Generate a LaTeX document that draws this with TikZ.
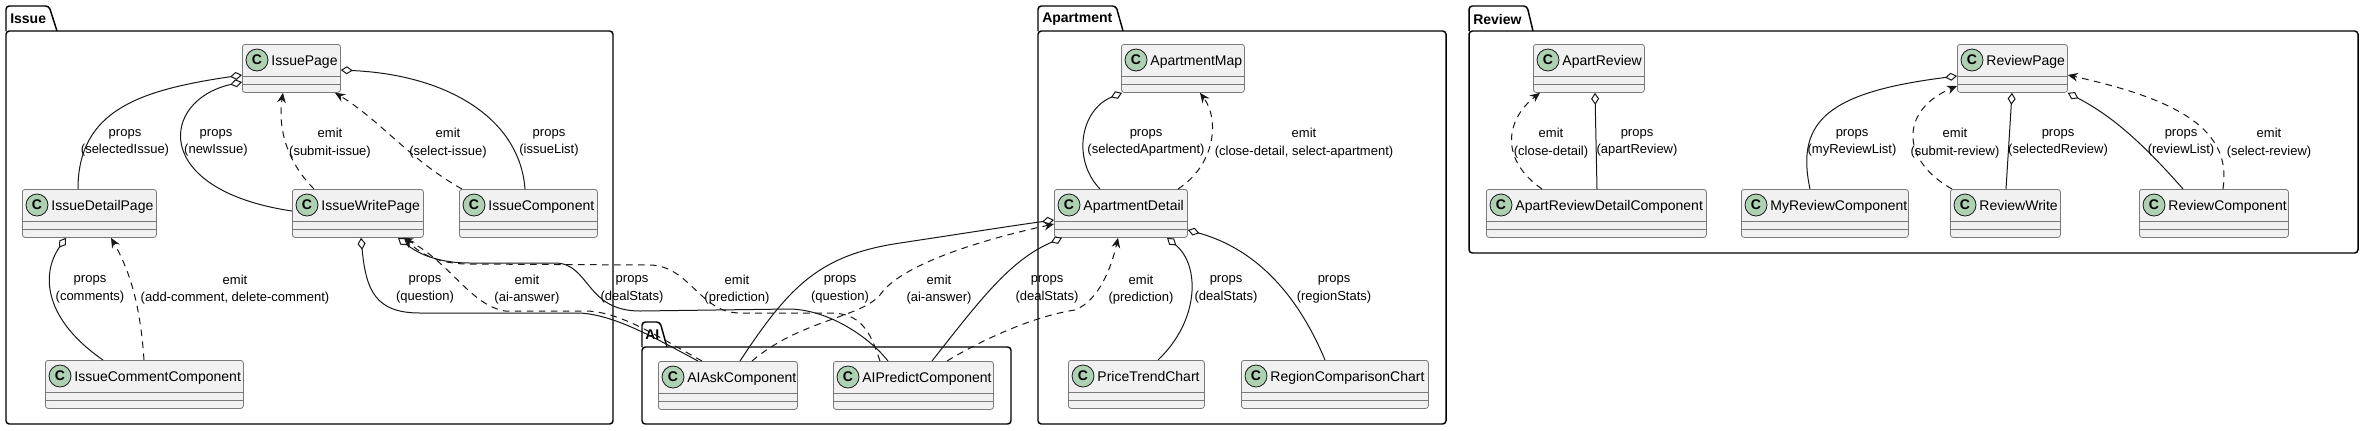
\documentclass[tikz,border=0pt]{standalone}
\usepackage{fontspec}
\setmainfont{Liberation Sans}
\usetikzlibrary{arrows.meta,calc}

\definecolor{boxfill}{HTML}{F1F1F1}
\definecolor{boxline}{HTML}{7A7A7A}
\definecolor{circfill}{HTML}{ADD1B2}
\definecolor{edge}{HTML}{181818}

\begin{document}
\begin{tikzpicture}[x=0.75pt,y=-0.75pt,
	cls/.style={draw=boxline, fill=boxfill, line width=0.6pt, rounded corners=2pt,
		anchor=north west, inner sep=0pt, text width=#1, align=left,
		text height=15.75pt, text depth=20.25pt, font=\fontsize{10.5}{12.6}\selectfont},
	cmark/.style={circle, draw=edge, fill=circfill, line width=0.6pt, inner sep=0pt,
		minimum size=16.5pt, font=\fontsize{10.5}{12}\selectfont\bfseries},
	pkg/.style={draw=black, line width=1.1pt, rounded corners=2.5pt},
	pkgtitle/.style={anchor=west, inner sep=0pt, font=\fontsize{10.5}{12}\selectfont\bfseries},
	agg/.style={draw=edge, line width=0.75pt, {Diamond[fill=white,length=9pt,width=6pt]}-},
	emitline/.style={draw=edge, line width=0.75pt, dash pattern=on 5pt off 4pt,
		-{Stealth[length=7.5pt,width=6.5pt,inset=2.5pt]}},
	lbl/.style={align=center, inner sep=0pt, font=\fontsize{9.75}{13}\selectfont}]
	\path[fill=white, use as bounding box] (0,0) rectangle (2363,430);
	% Draw packages
	\draw[pkg] (6,31) -- (6,6) -- (49,6) -- (57,31);
	\draw[pkg] (6,31) -- (613,31) -- (613,424) -- (6,424) -- cycle;
	\node[pkgtitle] (issuetitle) at (10,19) {Issue};
	\draw[pkg] (642,347) -- (642,322) -- (660,322) -- (667,347);
	\draw[pkg] (642,347) -- (1011,347) -- (1011,424) -- (642,424) -- cycle;
	\node[pkgtitle] (aititle) at (645,335) {AI};
	\draw[pkg] (1038,31) -- (1038,6) -- (1116,6) -- (1123,31);
	\draw[pkg] (1038,31) -- (1446,31) -- (1446,424) -- (1038,424) -- cycle;
	\node[pkgtitle] (apttitle) at (1042,19) {Apartment};
	\draw[pkg] (1469,31) -- (1469,6) -- (1527,6) -- (1533,31);
	\draw[pkg] (1469,31) -- (2358,31) -- (2358,253) -- (1469,253) -- cycle;
	\node[pkgtitle] (reviewtitle) at (1473,19) {Review};
	% Draw classes
	\node[cls=73.5pt] (issuepage) at (242,44) {\hspace*{21.75pt}IssuePage};
	\node[cls=100.5pt] (issuedetail) at (22,189) {\hspace*{21.75pt}IssueDetailPage};
	\node[cls=98.25pt] (issuewrite) at (292,189) {\hspace*{21.75pt}IssueWritePage};
	\node[cls=103.5pt] (issuecomp) at (459,189) {\hspace*{21.75pt}IssueComponent};
	\node[cls=148.5pt] (issuecomment) at (45,360) {\hspace*{21.75pt}IssueCommentComponent};
	\node[cls=104.25pt] (askcomp) at (658,361) {\hspace*{21.75pt}AIAskComponent};
	\node[cls=120pt] (predictcomp) at (833,361) {\hspace*{21.75pt}AIPredictComponent};
	\node[cls=92.25pt] (aptmap) at (1121,44) {\hspace*{21.75pt}ApartmentMap};
	\node[cls=99.75pt] (aptdetail) at (1054,189) {\hspace*{21.75pt}ApartmentDetail};
	\node[cls=102pt] (pricechart) at (1068,360) {\hspace*{21.75pt}PriceTrendChart};
	\node[cls=140.25pt] (regionchart) at (1241,360) {\hspace*{21.75pt}RegionComparisonChart};
	\node[cls=83.25pt] (apartreview) at (1533,44) {\hspace*{21.75pt}ApartReview};
	\node[cls=165pt] (reviewdetail) at (1486,189) {\hspace*{21.75pt}ApartReviewDetailComponent};
	\node[cls=125.25pt] (myreview) at (1741,189) {\hspace*{21.75pt}MyReviewComponent};
	\node[cls=82.5pt] (reviewpage) at (1957,44) {\hspace*{21.75pt}ReviewPage};
	\node[cls=82.5pt] (reviewwrite) at (1950,189) {\hspace*{21.75pt}ReviewWrite};
	\node[cls=111.75pt] (reviewcomp) at (2139,189) {\hspace*{21.75pt}ReviewComponent};
	% Class marks and empty compartments
	\foreach \c in {issuepage,issuedetail,issuewrite,issuecomp,issuecomment,askcomp,predictcomp,
		aptmap,aptdetail,pricechart,regionchart,apartreview,reviewdetail,myreview,reviewpage,
		reviewwrite,reviewcomp} {
		\node[cmark] (\c-mark) at ($(\c.north west)+(15,16)$) {C};
		\draw[boxline, line width=0.6pt] ($(\c.south west)+(0,-16)$) -- ($(\c.south east)+(0,-16)$);
		\draw[boxline, line width=0.6pt] ($(\c.south west)+(0,-8)$) -- ($(\c.south east)+(0,-8)$);
	}
	% Issue connectors
	\draw[agg] ($(issuepage.north west)+(0,31)$) .. controls (140,90) and (78,110) .. ($(issuedetail.north west)+(56,0)$);
	\draw[agg] ($(issuepage.north west)+(0,38)$) .. controls (160,100) and (150,190) .. ($(issuewrite.north west)+(0,22)$);
	\draw[emitline] ($(issuewrite.north west)+(22,0)$) .. controls (285,160) and (278,125) .. ($(issuepage.south west)+(41,0)$);
	\draw[emitline] ($(issuecomp.north west)+(3,0)$) .. controls (410,160) and (380,120) .. ($(issuepage.south west)+(93,0)$);
	\draw[agg] ($(issuepage.north east)+(0,26)$) .. controls (450,75) and (520,120) .. ($(issuecomp.north west)+(66,0)$);
	\draw[agg] ($(issuedetail.south west)+(44,0)$) .. controls (40,275) and (45,320) .. ($(issuecomment.north west)+(58,0)$);
	\draw[emitline] ($(issuecomment.north west)+(99,0)$) .. controls (140,300) and (128,268) .. ($(issuedetail.south west)+(89,0)$);
	% Issue to AI
	\draw[agg] ($(issuewrite.south west)+(69,0)$) .. controls (366,290) and (375,313) .. (420,313) -- (580,313)
		.. controls (615,315) and (655,338) .. ($(askcomp.north west)+(40,0)$);
	\draw[emitline] ($(askcomp.north west)+(44,0)$) .. controls (660,338) and (620,311) .. (585,311) -- (505,311)
		.. controls (470,305) and (450,262) .. ($(issuewrite.south west)+(111,0)$);
	\draw[agg] ($(issuewrite.south west)+(106,0)$) .. controls (420,255) and (440,263) .. (470,263) -- (555,263)
		.. controls (590,263) and (585,311) .. (640,311) -- (790,309)
		.. controls (830,310) and (870,338) .. ($(predictcomp.north west)+(55,0)$);
	\draw[emitline] ($(predictcomp.north west)+(47,0)$) .. controls (870,330) and (860,313) .. (830,313) -- (740,313)
		.. controls (700,313) and (690,266) .. (650,265) -- (465,264)
		.. controls (435,263) and (418,252) .. ($(issuewrite.south west)+(113,0)$);
	% AI to Apartment
	\draw[agg] ($(aptdetail.north west)+(0,31)$) .. controls (1010,226) and (960,234) .. (900,243)
		.. controls (820,255) and (790,285) .. ($(askcomp.north west)+(82,0)$);
	\draw[emitline] ($(askcomp.north west)+(94,0)$) .. controls (800,320) and (860,318) .. (880,295)
		.. controls (900,265) and (980,240) .. ($(aptdetail.north west)+(0,35)$);
	\draw[agg] ($(aptdetail.south west)+(8,0)$) .. controls (1010,260) and (980,300) .. ($(predictcomp.north west)+(99,0)$);
	\draw[emitline] ($(predictcomp.north west)+(114,0)$) .. controls (990,335) and (1040,315) .. (1075,310)
		.. controls (1100,300) and (1112,265) .. ($(aptdetail.south west)+(64,0)$);
	% Apartment connectors
	\draw[agg] ($(aptmap.south west)+(1,0)$) .. controls (1080,110) and (1072,160) .. ($(aptdetail.north west)+(46,0)$);
	\draw[emitline] ($(aptdetail.north west)+(124,0)$) .. controls (1215,165) and (1220,120) .. ($(aptmap.south west)+(79,0)$);
	\draw[agg] ($(aptdetail.south west)+(113,0)$) .. controls (1200,265) and (1200,320) .. ($(pricechart.north west)+(90,0)$);
	\draw[agg] ($(aptdetail.north east)+(0,41)$) .. controls (1260,250) and (1300,300) .. ($(regionchart.north west)+(84,0)$);
	% Review connectors
	\draw[agg] ($(apartreview.south west)+(62,0)$) -- ($(reviewdetail.north west)+(111,0)$);
	\draw[emitline] ($(reviewdetail.north west)+(56,0)$) .. controls (1500,160) and (1505,120) .. ($(apartreview.south west)+(7,0)$);
	\draw[agg] ($(reviewpage.north west)+(0,32)$) .. controls (1830,92) and (1795,120) .. ($(myreview.north west)+(69,0)$);
	\draw[emitline] ($(reviewwrite.north west)+(2,0)$) .. controls (1900,160) and (1900,110) .. ($(reviewpage.north west)+(0,42)$);
	\draw[agg] ($(reviewpage.south west)+(55,0)$) -- ($(reviewwrite.north west)+(56,0)$);
	\draw[agg] (reviewpage.south east) .. controls (2110,115) and (2140,140) .. ($(reviewcomp.north west)+(44,0)$);
	\draw[emitline] ($(reviewcomp.north west)+(84,0)$) .. controls (2232,130) and (2180,100) .. ($(reviewpage.north east)+(0,31)$);
	% Labels
	\node[lbl] (lselissue) at (125,143) {props\\(selectedIssue)};
	\node[lbl] (lnewissue) at (216,143) {props\\(newIssue)};
	\node[lbl] (lsubmitissue) at (330,143) {emit\\(submit-issue)};
	\node[lbl] (lselectissue) at (448,143) {emit\\(select-issue)};
	\node[lbl] (lissuelist) at (549,143) {props\\(issueList)};
	\node[lbl] (lcomments) at (90,289.5) {props\\(comments)};
	\node[lbl] (laddcomment) at (235,289.5) {emit\\(add-comment, delete-comment)};
	\node[lbl] (lquestion) at (425,289.5) {props\\(question)};
	\node[lbl] (laianswer) at (527,289.5) {emit\\(ai-answer)};
	\node[lbl] (ldealstats) at (632,289.5) {props\\(dealStats)};
	\node[lbl] (lprediction) at (737,289.5) {emit\\(prediction)};
	\node[lbl] (lquestiontwo) at (840,289.5) {props\\(question)};
	\node[lbl] (laianswertwo) at (939,289.5) {emit\\(ai-answer)};
	\node[lbl] (ldealstatstwo) at (1047,289.5) {props\\(dealStats)};
	\node[lbl] (lpredictiontwo) at (1141,289.5) {emit\\(prediction)};
	\node[lbl] (ldealstatsthree) at (1226,289.5) {props\\(dealStats)};
	\node[lbl] (lregionstats) at (1334,289.5) {props\\(regionStats)};
	\node[lbl] (lselapt) at (1146,143) {props\\(selectedApartment)};
	\node[lbl] (lcloseselect) at (1304,143) {emit\\(close-detail, select-apartment)};
	\node[lbl] (lclosedetail) at (1551,143) {emit\\(close-detail)};
	\node[lbl] (lapartreview) at (1637,143) {props\\(apartReview)};
	\node[lbl] (lmyreviewlist) at (1852,143) {props\\(myReviewList)};
	\node[lbl] (lsubmitreview) at (1955,143) {emit\\(submit-review)};
	\node[lbl] (lselreview) at (2058,143) {props\\(selectedReview)};
	\node[lbl] (lreviewlist) at (2181,143) {props\\(reviewList)};
	\node[lbl] (lselectreview) at (2269,143) {emit\\(select-review)};
\end{tikzpicture}
\end{document}
